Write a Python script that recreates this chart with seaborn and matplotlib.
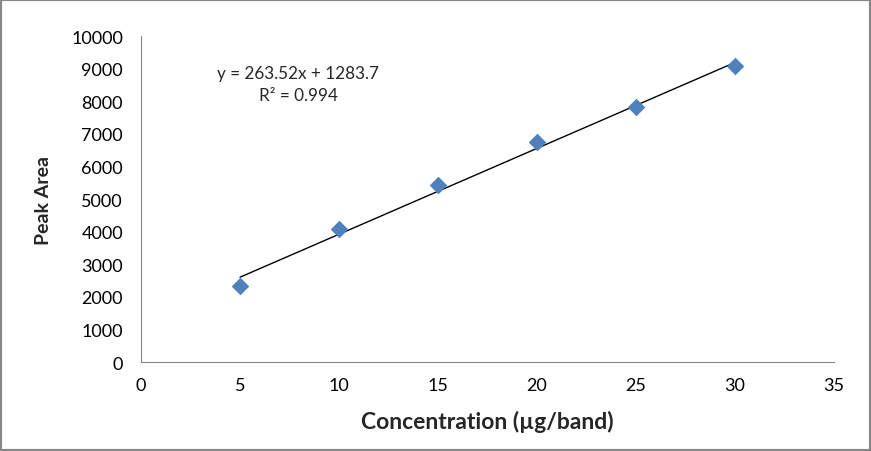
import matplotlib
matplotlib.use("Agg")
import matplotlib.pyplot as plt
import numpy as np
import pandas as pd
import seaborn as sns
from matplotlib.patches import Rectangle

concentration = [5, 10, 15, 20, 25, 30]
peak_area = [2330, 4080, 5430, 6750, 7820, 9080]
slope = 263.52
intercept = 1283.7
equation_text = "y = 263.52x + 1283.7\nR² = 0.994"
x_ticks = [0, 5, 10, 15, 20, 25, 30, 35]
y_ticks = [0, 1000, 2000, 3000, 4000, 5000, 6000, 7000, 8000, 9000, 10000]

sns.set_theme(style="white")
plt.rcParams["font.family"] = ["Lato", "DejaVu Sans"]

df = pd.DataFrame({"Concentration": concentration, "Peak Area": peak_area})
trend_x = np.array([min(concentration), max(concentration)])
trend = pd.DataFrame({"x": trend_x, "y": slope * trend_x + intercept})

fig = plt.figure(figsize=(8.71, 4.52), dpi=100)
ax = fig.add_axes([0.1619, 0.1969, 0.7956, 0.7212])

sns.lineplot(data=trend, x="x", y="y", ax=ax, color="black", linewidth=1.0)
sns.scatterplot(data=df, x="Concentration", y="Peak Area", ax=ax, marker="D",
                s=80, color="#4F81BD", edgecolor="#4F81BD", linewidth=0, zorder=3)

ax.set_xlim(0, 35)
ax.set_ylim(0, 10000)
ax.set_xticks(x_ticks)
ax.set_yticks(y_ticks)
ax.tick_params(axis="both", direction="out", length=5, width=0.8, color="#868686",
               labelsize=13, labelcolor="black")
ax.tick_params(axis="y", pad=8)
ax.tick_params(axis="x", pad=6)

for side in ["top", "right"]:
    ax.spines[side].set_visible(False)
for side in ["left", "bottom"]:
    ax.spines[side].set_color("#868686")
    ax.spines[side].set_linewidth(0.8)

ax.set_xlabel("Concentration (µg/band)", fontsize=16.5, fontweight="bold", labelpad=12)
ax.set_ylabel("Peak Area", fontsize=14, fontweight="bold", labelpad=14)

ax.text(7.95, 8530, equation_text, ha="center", va="center", fontsize=12.3,
        multialignment="center", linespacing=1.45)

fig.patches.append(Rectangle((0, 0), 1, 1, transform=fig.transFigure, fill=False,
                             edgecolor="#878787", linewidth=3))

fig.savefig("out.png", dpi=100)
